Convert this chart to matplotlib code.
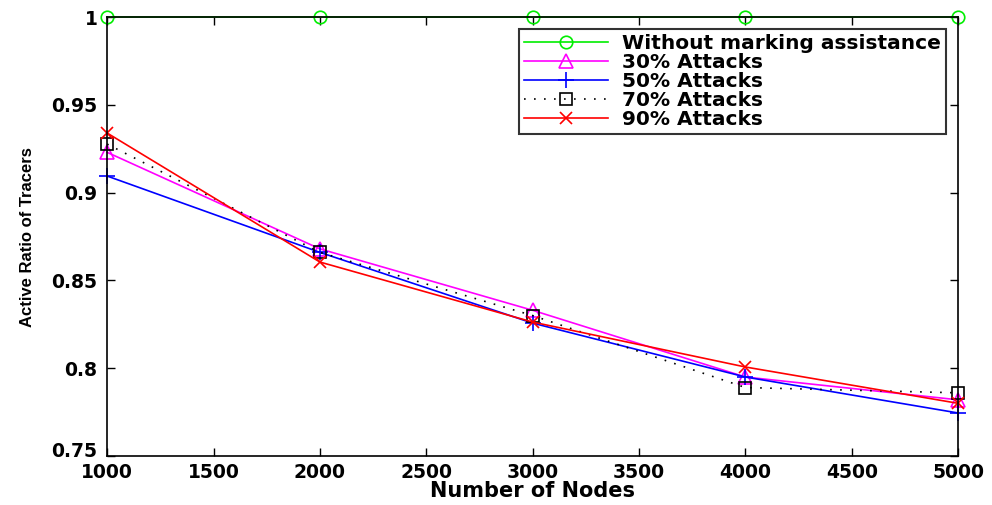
import matplotlib.pyplot as plt
import matplotlib.transforms as mtransforms
import numpy as np

plt.rcParams['font.family'] = ['DejaVu Sans']

nodes = [1000, 2000, 3000, 4000, 5000]
without_assist = [1.0, 1.0, 1.0, 1.0, 1.0]
attack_30 = [0.923, 0.868, 0.833, 0.795, 0.782]
attack_50 = [0.9095, 0.866, 0.8257, 0.795, 0.7745]
attack_70 = [0.9277, 0.866, 0.830, 0.789, 0.786]
attack_90 = [0.934, 0.8605, 0.8263, 0.8007, 0.780]

fig = plt.figure(figsize=(9.92, 5.05), dpi=100)
ax = fig.add_axes([0.108, 0.097, 0.858, 0.869])

common = dict(lw=1.2, mew=1.2, clip_on=False)
ax.plot(nodes, without_assist, color='#00ee00', marker='o', ms=9, mfc='none',
        label='Without marking assistance', **common)
ax.plot(nodes, attack_30, color='magenta', marker='^', ms=10, mfc='none',
        label='30% Attacks', **common)
ax.plot(nodes, attack_50, color='blue', marker='+', ms=11,
        label='50% Attacks', **common)
ax.plot(nodes, attack_70, color='black', marker='s', ms=9, mfc='none',
        ls=(0, (1, 5)), label='70% Attacks', **common)
ax.plot(nodes, attack_90, color='red', marker='x', ms=9,
        label='90% Attacks', **common)

ax.set_xlim(1000, 5000)
ax.set_ylim(0.75, 1.0)
ax.set_xticks(np.arange(1000, 5001, 500))
ax.set_yticks([0.75, 0.8, 0.85, 0.9, 0.95, 1.0])
ax.set_yticklabels(['0.75', '0.8', '0.85', '0.9', '0.95', '1'])
ax.tick_params(direction='in', top=True, right=True, length=6, width=1)
ax.tick_params(axis='x', pad=5)
ax.tick_params(axis='y', pad=7)
for lab in ax.get_xticklabels() + ax.get_yticklabels():
    lab.set_fontsize(13.5)
    lab.set_fontweight('bold')
for sp in ax.spines.values():
    sp.set_linewidth(1.2)

# nudge the bottom y label up a little so it doesn't sit on top of "1000"
lab075 = ax.get_yticklabels()[0]
lab075.set_transform(lab075.get_transform() +
                     mtransforms.ScaledTranslation(0, 5 / 72, fig.dpi_scale_trans))

ax.set_xlabel('Number of Nodes', fontsize=15, fontweight='bold', labelpad=-1)
ax.set_ylabel('Active Ratio of Tracers', fontsize=12, fontweight='bold', labelpad=12,
              family='Liberation Sans')

leg = ax.legend(loc='upper right', prop={'weight': 'bold', 'size': 14.5},
                frameon=True, fancybox=False, edgecolor='black', borderpad=0.25,
                labelspacing=0.0, handlelength=4.2, handletextpad=0.7,
                borderaxespad=0.6)
leg.get_frame().set_linewidth(1.5)

plt.savefig('out.png', dpi=100)
